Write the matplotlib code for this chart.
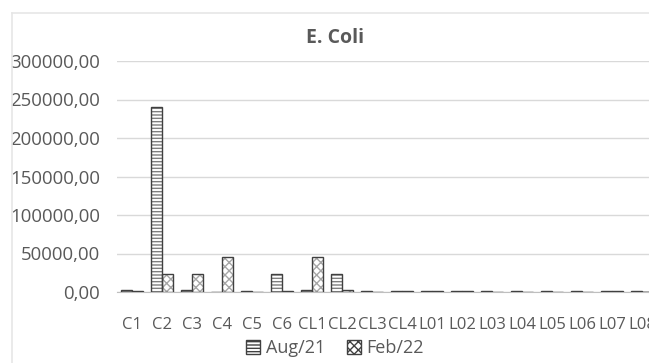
import numpy as np
import matplotlib
matplotlib.use('Agg')
import matplotlib.pyplot as plt
from matplotlib.patches import Patch
from matplotlib.lines import Line2D

categories = ['C1', 'C2', 'C3', 'C4', 'C5', 'C6', 'CL1', 'CL2', 'CL3', 'CL4',
              'L01', 'L02', 'L03', 'L04', 'L05', 'L06', 'L07', 'L08']
aug21 = [2600, 240000, 2600, 0, 800, 24000, 2600, 24000, 800, 800,
         800, 800, 800, 800, 800, 800, 800, 800]
feb22 = [800, 24000, 24000, 46000, 0, 1400, 46000, 2200, 0, 800,
         800, 800, 0, 0, 0, 0, 800, 0]
series_names = ['Aug/21', 'Feb/22']
yticks = [0, 50000, 100000, 150000, 200000, 250000, 300000]

plt.rcParams['font.family'] = ['Open Sans', 'DejaVu Sans']
txt = '#595959'

W, H = 649, 363
fig = plt.figure(figsize=(W / 100, H / 100), dpi=100)

# chart border (cropped on the right)
fig.add_artist(Line2D([12 / W, 1], [1 - 13 / H, 1 - 13 / H], color='#e6e6e6', lw=1.2))
fig.add_artist(Line2D([12 / W, 12 / W], [0, 1 - 13 / H], color='#e6e6e6', lw=1.2))

ax = fig.add_axes([117 / W, 71 / H, 540 / W, 231 / H])
x = np.arange(len(categories))
bw = 0.37

# hatched fill first, then dark outline
ax.bar(x - bw / 2, aug21, bw, color='white', hatch='-----', edgecolor='#7f7f7f', lw=0, zorder=2)
ax.bar(x + bw / 2, feb22, bw, color='white', hatch='xxxx', edgecolor='#a6a6a6', lw=0, zorder=2)
ax.bar(x - bw / 2, aug21, bw, fill=False, edgecolor='#404040', lw=1.0, zorder=4)
ax.bar(x + bw / 2, feb22, bw, fill=False, edgecolor='#404040', lw=1.0, zorder=4)

ax.set_xlim(-0.5, len(categories) - 0.5)
ax.set_ylim(0, 300000)
ax.set_yticks(yticks)
ax.set_yticklabels(['%d,00' % v for v in yticks])
ax.set_xticks(x)
ax.set_xticklabels(categories)
ax.tick_params(length=0, colors=txt)
ax.tick_params(axis='y', pad=12, labelsize=13.4)
ax.tick_params(axis='x', pad=18, labelsize=12)
ax.grid(axis='y', color='#d9d9d9', lw=1)
ax.set_axisbelow(True)
for s in ['top', 'right', 'left']:
    ax.spines[s].set_visible(False)
ax.spines['bottom'].set_color('#bfbfbf')
ax.spines['bottom'].set_zorder(3)

fig.text(335 / W, 1 - 38 / H, 'E. Coli', ha='center', va='center',
         fontsize=14, fontweight='bold', color=txt)

handles = [Patch(facecolor='white', edgecolor='#404040', hatch='-----', label=series_names[0]),
           Patch(facecolor='white', edgecolor='#404040', hatch='xxxx', label=series_names[1])]
fig.legend(handles=handles, loc='center', bbox_to_anchor=(335 / W, 1 - 348 / H), ncol=2,
           frameon=False, fontsize=13, labelcolor=txt, handlelength=0.8, handleheight=0.8,
           handletextpad=0.3, columnspacing=1.2)

fig.savefig('out.png', dpi=100)
